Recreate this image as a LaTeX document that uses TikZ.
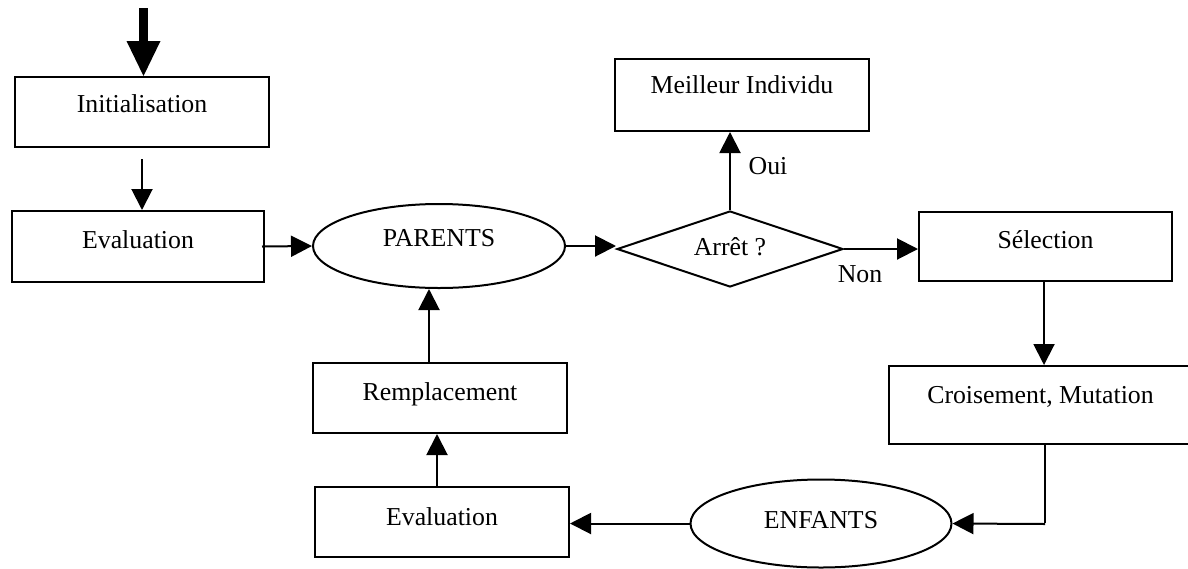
\documentclass[tikz,border=0pt]{standalone}
\usepackage{fontspec}
\setmainfont{Liberation Serif}
\usetikzlibrary{arrows.meta,shapes.geometric}
\begin{document}
\begin{tikzpicture}[x=1pt,y=-1pt,
  font=\fontsize{25.8}{30}\selectfont,
  line width=2pt,
  box/.style={draw, rectangle, inner xsep=0pt, inner ysep=0pt, minimum width=#1},
  oval/.style={draw, ellipse, inner sep=0pt, text height=0pt, text depth=0pt},
  arr/.style={-{Triangle[length=21pt,width=21pt]}},
  tag/.style={anchor=base, inner sep=0pt}]
\useasboundingbox (0,0) rectangle (1188,568);

% process boxes (baseline of the label sits where text height ends)
\node[box=254pt, text height=35pt, text depth=35pt] (init)  at (142,112)    {Initialisation};
\node[box=252pt, text height=37pt, text depth=34pt] (eval1) at (138,246.5)  {Evaluation};
\node[box=254pt, text height=34pt, text depth=38pt] (best)  at (742,95)     {Meilleur Individu};
\node[box=253pt, text height=36pt, text depth=33pt] (sel)   at (1045.5,246.5) {Sélection};
\node[box=303pt, text height=37pt, text depth=41pt] (crois) at (1040.5,405) {Croisement, Mutation};
\node[box=254pt, text height=37pt, text depth=33pt] (rempl) at (440,398)    {Remplacement};
\node[box=254pt, text height=38pt, text depth=32pt] (eval2) at (442,522)    {Evaluation};

% populations
\node[oval, minimum width=252pt, minimum height=84pt] (parents) at (439,246) {PARENTS};
\node[oval, minimum width=261pt, minimum height=88pt, text height=9pt] (enfants) at (821,523.5) {ENFANTS};

% stopping test
\node[draw, diamond, aspect=3, inner sep=0pt, text height=13pt, text depth=0pt,
      minimum width=226pt, minimum height=76pt] (arret) at (730,249) {Arrêt ?};

% branch labels
\node[tag] (oui) at (768,174) {Oui};
\node[tag] (non) at (860,282) {Non};

% entry arrow
\coordinate (src) at (143.5,8);
\draw[line width=9pt, -{Triangle[length=35pt,width=34pt,line width=0pt]}] (src) -- (src |- init.north);

% main loop
\draw[arr] ([yshift=-11pt]init.south) -- (init.south |- eval1.north);
\draw[arr] ([xshift=-3pt]eval1.east) -- (parents.west);
\draw[arr] (parents.east) -- (parents.east -| arret.west);
\draw[arr] (arret.north) -- (arret.north |- best.south);
\draw[arr] (arret.east) -- (arret.east -| sel.west);
\draw[arr] ([xshift=3.5pt]crois.north |- sel.south) -- ([xshift=3.5pt]crois.north);
\coordinate (bend) at (1045,524);
\draw (bend |- crois.south) -- ([yshift=1pt]bend);
\draw[arr] (bend) -- (enfants.east);
\draw[arr] (enfants.west) -- (enfants.west -| eval2.east);
\draw[arr] ([xshift=-5pt]eval2.north) -- ([xshift=-5pt]eval2.north |- rempl.south);
\draw[arr] ([xshift=-11pt]rempl.north) -- ([xshift=-11pt]rempl.north |- parents.south);
\end{tikzpicture}
\end{document}
